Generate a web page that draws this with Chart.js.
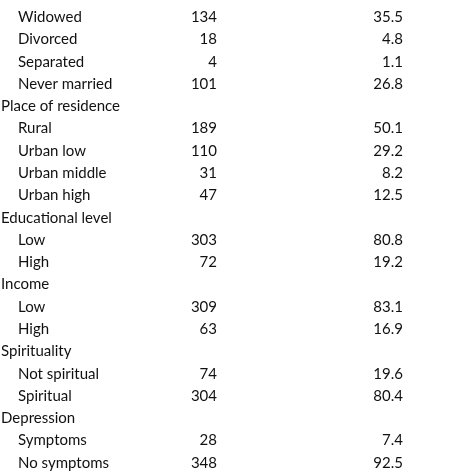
<!DOCTYPE html>
<html><head><meta charset="utf-8">
<script src="https://cdn.jsdelivr.net/npm/chart.js@4/dist/chart.umd.min.js"></script>
<style>html,body{margin:0;padding:0;background:#fff}#wrap{width:474px;height:474px}</style>
</head><body><div id="wrap"><canvas id="c"></canvas></div>
<script>
// Table rows (null count = section heading)
const rowLabels = ['Widowed', 'Divorced', 'Separated', 'Never married', 'Place of residence', 'Rural', 'Urban low',
  'Urban middle', 'Urban high', 'Educational level', 'Low', 'High', 'Income', 'Low', 'High', 'Spirituality',
  'Not spiritual', 'Spiritual', 'Depression', 'Symptoms', 'No symptoms'];
const counts = [134, 18, 4, 101, null, 189, 110, 31, 47, null, 303, 72, null, 309, 63, null, 74, 304, null, 28, 348];
const percents = ['35.5', '4.8', '1.1', '26.8', null, '50.1', '29.2', '8.2', '12.5', null, '80.8', '19.2', null,
  '83.1', '16.9', null, '19.6', '80.4', null, '7.4', '92.5'];

const tableText = {
  id: 'tableText',
  afterDraw(chart) {
    const ctx = chart.ctx, y = chart.scales.y;
    ctx.save();
    ctx.fillStyle = '#111';
    ctx.font = '15px Lato, "Open Sans", sans-serif';
    ctx.textBaseline = 'middle';
    rowLabels.forEach((lab, i) => {
      const py = y.getPixelForValue(i);
      const head = counts[i] === null;
      ctx.textAlign = 'left';
      ctx.fillText(lab, head ? 1 : 18, py);
      if (!head) {
        ctx.textAlign = 'right';
        ctx.fillText(String(counts[i]), 217, py);
        ctx.fillText(percents[i], 403, py);
      }
    });
    ctx.restore();
  }
};

new Chart(document.getElementById('c'), {
  type: 'bar',
  data: { labels: rowLabels, datasets: [{ data: counts.map(() => 0), backgroundColor: 'transparent' }] },
  options: {
    responsive: true, maintainAspectRatio: false, animation: false,
    indexAxis: 'y',
    layout: { padding: { top: 6, bottom: -2, left: 0, right: 0 } },
    plugins: { legend: { display: false }, tooltip: { enabled: false } },
    scales: {
      x: { display: false, min: 0, max: 1 },
      y: { display: false }
    }
  },
  plugins: [tableText]
});
</script></body></html>
